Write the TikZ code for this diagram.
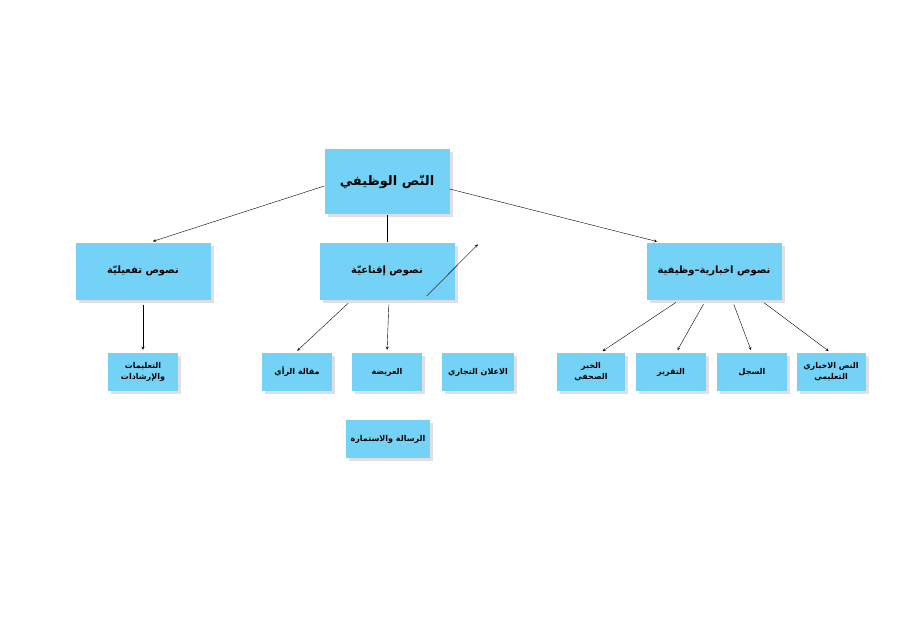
\documentclass[tikz,border=0pt]{standalone}
\usepackage{fontspec}
\newfontfamily\arabicfont[Script=Arabic]{DejaVu Sans}
\TeXXeTstate=1
\usetikzlibrary{positioning}
\usetikzlibrary{arrows}
\tikzset{
    box/.style={fill=cyan!55, draw=none, minimum height=38pt, align=center,
        font=\arabicfont\bfseries\fontsize{8}{11}\selectfont,
        double copy shadow={shadow xshift=2pt, shadow yshift=-2pt, fill=gray!30, draw=none}},
    sbox/.style={fill=cyan!55, minimum height=38pt, align=center,
        font=\arabicfont\bfseries\fontsize{8}{11}\selectfont},
    arr/.style={->, >=stealth, shorten >=3pt, shorten <=5pt}
}
\newcommand{\ar}[1]{\beginR #1\endR}
\begin{document}
\begin{tikzpicture}[x=1pt, y=-1pt]
    \useasboundingbox (0,0) rectangle (918,639);

    % shadows
    \foreach \x/\y/\w/\h in {387/182/125/65, 143/271/135/57, 387/271/135/57, 714/271/135/57,
        143/372/70/38, 297/372/70/38, 387/372/70/38, 478/372/72/38,
        591/372/68/38, 671/372/70/38, 752/372/70/38, 831/372/69/38, 388/439/84/38}
        \fill[gray!25] (\x-\w/2+3,\y-\h/2+3) rectangle ++(\w,\h);

    \node[sbox, minimum width=125pt, minimum height=65pt,
        font=\arabicfont\bfseries\fontsize{13}{15}\selectfont] (root) at (387,182) {\ar{النّص الوظيفي}};

    \node[sbox, minimum width=135pt, minimum height=57pt, font=\arabicfont\bfseries\fontsize{10}{12}\selectfont] (act) at (143,271) {\ar{نصوص تفعيليّة}};
    \node[sbox, minimum width=135pt, minimum height=57pt, font=\arabicfont\bfseries\fontsize{10}{12}\selectfont] (pers) at (387,271) {\ar{نصوص إقناعيّة}};
    \node[sbox, minimum width=135pt, minimum height=57pt, font=\arabicfont\bfseries\fontsize{10}{12}\selectfont] (info) at (714,271) {\ar{نصوص اخبارية–وظيفية}};

    \node[sbox, minimum width=70pt] (instr) at (143,372) {\ar{التعليمات}\\\ar{والإرشادات}};
    \node[sbox, minimum width=70pt] (opin) at (297,372) {\ar{مقالة الرأي}};
    \node[sbox, minimum width=70pt] (petit) at (387,372) {\ar{العريضة}};
    \node[sbox, minimum width=72pt] (adv) at (478,372) {\ar{الاعلان التجاري}};
    \node[sbox, minimum width=84pt] (letter) at (388,439) {\ar{الرسالة والاستمارة}};

    \node[sbox, minimum width=68pt] (news) at (591,372) {\ar{الخبر}\\\ar{الصحفي}};
    \node[sbox, minimum width=70pt] (report) at (671,372) {\ar{التقرير}};
    \node[sbox, minimum width=70pt] (record) at (752,372) {\ar{السجل}};
    \node[sbox, minimum width=69pt] (edu) at (831,372) {\ar{النص الاخباري}\\\ar{التعليمي}};

    \draw[arr, shorten <=0pt] ([yshift=-4pt]root.west) -- ([xshift=7pt]act.north);
    \draw[arr, shorten <=0pt] ([yshift=-7pt]root.east) -- ([xshift=-54pt]info.north);
    \draw (root.south) -- (pers.north);

    \draw[arr] (act.south) -- (instr.north);
    \draw[arr] ([xshift=-35pt]pers.south) -- ([xshift=-2pt]opin.north);
    \draw[arr] ([xshift=2pt]pers.south) -- (petit.north);
    \draw[arr] ([xshift=36pt]pers.south) -- ([xshift=2pt]info.north -| adv.north);

    \draw[arr] ([xshift=-34pt]info.south) -- ([xshift=9pt]news.north);
    \draw[arr] ([xshift=-8pt]info.south) -- ([xshift=5pt]report.north);
    \draw[arr] ([xshift=18pt]info.south) -- (record.north);
    \draw[arr] ([xshift=46pt]info.south) -- (edu.north);
\end{tikzpicture}
\end{document}
